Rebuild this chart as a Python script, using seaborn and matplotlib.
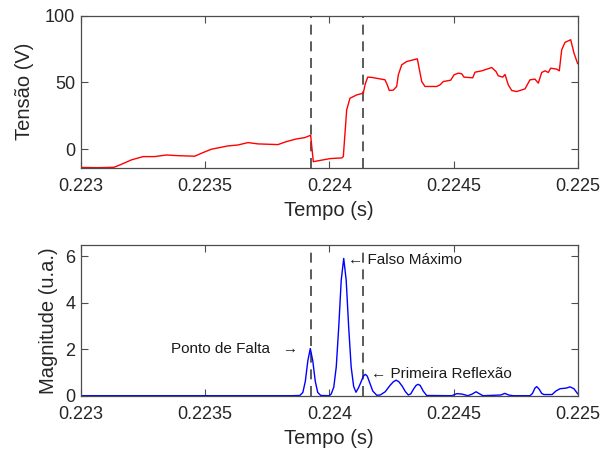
import numpy as np
import pandas as pd
import matplotlib
matplotlib.use("Agg")
import matplotlib.pyplot as plt
import seaborn as sns

tempo_v = [0.2230000, 0.2230688, 0.2231333, 0.2231626, 0.2232029, 0.2232500,
           0.2232971, 0.2233438, 0.2233909, 0.2234581, 0.2234915, 0.2235250,
           0.2235922, 0.2236325, 0.2236727, 0.2237130, 0.2237935, 0.2238269,
           0.2238672, 0.2239010, 0.2239211, 0.2239250, 0.2239356, 0.2240028,
           0.2240500, 0.2240564, 0.2240632, 0.2240700, 0.2240833, 0.2241103,
           0.2241369, 0.2241437, 0.2241546, 0.2241707, 0.2242242, 0.2242335,
           0.2242415, 0.2242576, 0.2242713, 0.2242778, 0.2242915, 0.2243116,
           0.2243543, 0.2243720, 0.2243853, 0.2244324, 0.2244457, 0.2244589,
           0.2244887, 0.2245020, 0.2245193, 0.2245330, 0.2245423, 0.2245773,
           0.2245866, 0.2246135, 0.2246538, 0.2246711, 0.2246804, 0.2246981,
           0.2247073, 0.2247206, 0.2247343, 0.2247544, 0.2247879, 0.2248080,
           0.2248281, 0.2248414, 0.2248551, 0.2248684, 0.2248817, 0.2248913,
           0.2249155, 0.2249259, 0.2249356, 0.2249489, 0.2249718, 0.2249851,
           0.2250000]
tensao = [-13.6, -13.8, -13.5, -11.3, -8.0, -5.5,
          -5.5, -4.3, -4.8, -5.2, -2.5, 0.0,
          2.5, 3.2, 5.0, 4.0, 3.5, 5.7,
          7.7, 8.7, 10.2, 10.4, -9.3, -7.0,
          -6.5, -5.5, 12.0, 29.5, 38.2, 40.7,
          42.0, 48.2, 54.0, 53.8, 52.0, 48.2,
          44.0, 44.3, 47.0, 55.7, 63.2, 65.7,
          67.7, 50.7, 47.0, 47.0, 48.2, 50.7,
          51.7, 55.7, 57.0, 56.5, 54.0, 53.5,
          57.7, 58.7, 61.2, 58.2, 55.0, 54.0,
          56.0, 48.2, 44.0, 43.2, 45.2, 52.0,
          52.5, 49.5, 57.5, 58.7, 57.5, 60.7,
          60.0, 58.7, 74.5, 80.0, 82.0, 72.0,
          64.0]

# Magnitude (u.a.)
tempo_m = [0.2230000, 0.2238500, 0.2238815, 0.2238935, 0.2239035, 0.2239135,
           0.2239235, 0.2239335, 0.2239435, 0.2239535, 0.2239655, 0.2240000,
           0.2240080, 0.2240180, 0.2240280, 0.2240380, 0.2240480, 0.2240580,
           0.2240680, 0.2240780, 0.2240880, 0.2240980, 0.2241075, 0.2241180,
           0.2241280, 0.2241370, 0.2241450, 0.2241530, 0.2241630, 0.2241750,
           0.2241910, 0.2242050, 0.2242250, 0.2242450, 0.2242580, 0.2242690,
           0.2242800, 0.2242930, 0.2243060, 0.2243180, 0.2243280, 0.2243400,
           0.2243500, 0.2243580, 0.2243660, 0.2243780, 0.2243920, 0.2244940,
           0.2245040, 0.2245140, 0.2245340, 0.2245580, 0.2245750, 0.2245910,
           0.2246050, 0.2246190, 0.2246900, 0.2247070, 0.2247220, 0.2247400,
           0.2248080, 0.2248180, 0.2248280, 0.2248350, 0.2248450, 0.2248550,
           0.2248640, 0.2248970, 0.2249120, 0.2249290, 0.2249550, 0.2249690,
           0.2249850, 0.2250000]
magnitude = [0.0, 0.0, 0.01, 0.14, 0.62, 1.5,
             2.03, 1.5, 0.62, 0.14, 0.01, 0.0,
             0.08, 0.37, 1.24, 2.96, 4.97, 5.91,
             4.97, 2.96, 1.24, 0.4, 0.15, 0.35,
             0.6, 0.84, 0.92, 0.84, 0.55, 0.2,
             0.02, 0.03, 0.17, 0.45, 0.6, 0.67,
             0.6, 0.42, 0.18, 0.03, 0.08, 0.3,
             0.45, 0.49, 0.44, 0.2, 0.01, 0.0,
             0.05, 0.09, 0.07, 0.0, 0.07, 0.17,
             0.08, 0.0, 0.03, 0.1, 0.03, 0.0,
             0.0, 0.1, 0.33, 0.39, 0.28, 0.1,
             0.05, 0.05, 0.2, 0.3, 0.33, 0.38,
             0.3, 0.08]

marcas = [0.2239262, 0.2241370]
xticks = [0.223, 0.2235, 0.224, 0.2245, 0.225]
xtick_labels = ["0.223", "0.2235", "0.224", "0.2245", "0.225"]

df_v = pd.DataFrame({"t": tempo_v, "v": tensao})
df_m = pd.DataFrame({"t": tempo_m, "m": magnitude})

sns.set_theme(style="ticks")
plt.rcParams["font.family"] = ["Liberation Sans", "DejaVu Sans"]
plt.rcParams["axes.edgecolor"] = "#4d4d4d"
plt.rcParams["xtick.color"] = "#4d4d4d"
plt.rcParams["ytick.color"] = "#4d4d4d"
plt.rcParams["xtick.labelcolor"] = "#262626"
plt.rcParams["ytick.labelcolor"] = "#262626"

fig = plt.figure(figsize=(6.06, 4.51), dpi=100)
ax1 = fig.add_axes([0.1335, 0.6282, 0.8198, 0.3370])
ax2 = fig.add_axes([0.1335, 0.1226, 0.8198, 0.3348])

sns.lineplot(data=df_v, x="t", y="v", ax=ax1, color="red", linewidth=1.0)
sns.lineplot(data=df_m, x="t", y="m", ax=ax2, color="blue", linewidth=1.0)

for ax in (ax1, ax2):
    for xm in marcas:
        ax.axvline(xm, color="#404040", linestyle=(0, (6, 4)), linewidth=1.2, zorder=1)
    ax.set_xlim(0.223, 0.225)
    ax.set_xticks(xticks)
    ax.set_xticklabels(xtick_labels)
    ax.tick_params(direction="in", top=True, right=True, length=5, width=0.8,
                   labelsize=13)
    ax.tick_params(axis="x", pad=7.5)
    ax.tick_params(axis="y", pad=4)
    for s in ax.spines.values():
        s.set_linewidth(0.9)
    ax.set_xlabel("Tempo (s)", fontsize=14.5, labelpad=4)

ax1.set_ylim(-13.8, 100)
ax1.set_yticks([0, 50, 100])
ax1.set_ylabel("Tensão (V)", fontsize=14.5, labelpad=8)

ax2.set_ylim(0, 6.5)
ax2.set_yticks([0, 2, 4, 6])
ax2.set_ylabel("Magnitude (u.a.)", fontsize=14.5, labelpad=5)

ax2.text(0.2238728, 1.99, "Ponto de Falta   \u2192", ha="right", va="center",
         fontsize=11, color="#1a1a1a")
ax2.text(0.2240765, 5.85, "\u2190 Falso Máximo", ha="left", va="center",
         fontsize=11, color="#1a1a1a")
ax2.text(0.2241667, 0.92, "\u2190 Primeira Reflexão", ha="left", va="center",
         fontsize=11, color="#1a1a1a")

fig.savefig("out.png", dpi=100)
